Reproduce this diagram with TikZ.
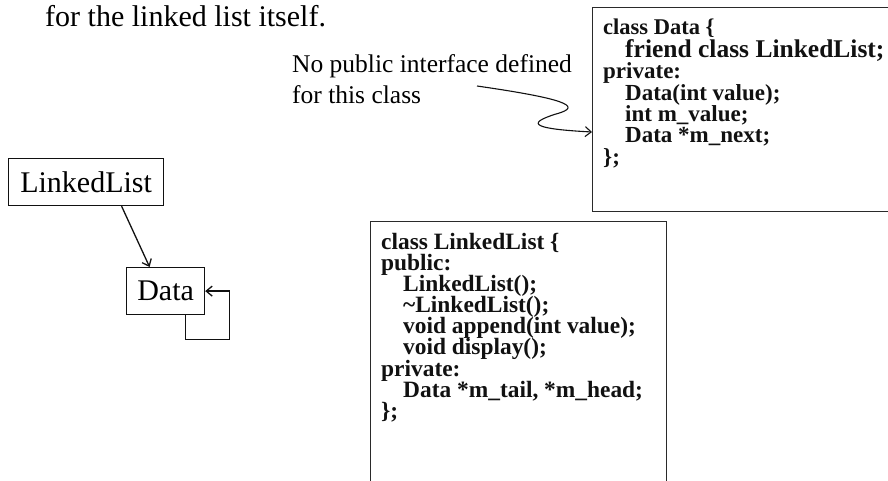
\documentclass[tikz,border=0pt]{standalone}
\usepackage{fontspec}
\setmainfont{Liberation Serif}
\usepackage{xcolor}
\usepackage{tikz}
\usetikzlibrary{arrows.meta,calc,positioning}
\definecolor{inkdark}{HTML}{111111}
\definecolor{framegray}{HTML}{2A2A2A}
\newcommand{\ind}{\hspace*{22pt}}
\setlength{\lineskiplimit}{-20pt}
\tikzset{
classbox/.style={
	draw=inkdark,
	line width=1.2pt,
	inner xsep=9pt,
	minimum height=47pt,
	font=\fontsize{30}{36}\selectfont
},
codeframe/.style={draw=framegray, line width=1.2pt, inner sep=0pt, anchor=north west},
codetext/.style={
	anchor=north west,
	inner sep=0pt,
	align=left,
	text=inkdark,
	font=\fontsize{23}{21.3}\selectfont\bfseries
},
linkarrow/.style={-{Straight Barb[length=6pt,width=10pt]}, line width=1.3pt, draw=inkdark},
notetext/.style={anchor=north west, inner sep=0pt, align=left, font=\fontsize{25.5}{31}\selectfont}
}

\begin{document}
\begin{tikzpicture}[x=1pt,y=-1pt]
\useasboundingbox (0,0) rectangle (888,481);
\clip (0,0) rectangle (888,481);

% ── Lead-in line ───────────────────────────────────────────────
\node[anchor=base west,inner sep=0pt,font=\fontsize{30}{36}\selectfont] (intro) at (45,27)
 {for the linked list itself.};

% ── Class diagram ──────────────────────────────────────────────
\node[classbox,minimum width=155pt,anchor=north west] (ll) at (8,158) {LinkedList};
\node[classbox,minimum width=78pt,anchor=north west] (data) at (126,267) {Data};
\draw[linkarrow] ([xshift=35.5pt]ll.south) -- ([xshift=-16pt]data.north);
\draw[linkarrow] ([xshift=20pt]data.south) -- ++(0,24) -| ([xshift=24pt]data.east) -- (data.east);

% ── Data class listing ─────────────────────────────────────────
\node[codeframe,minimum width=320pt,minimum height=204pt] (databox) at (592,7) {};
\node[codetext] (datacode) at (603,19)
 {{\fontsize{22.5}{21.3}\selectfont class Data \{}\\[1.5pt]
 \ind{\fontsize{25.5}{21.3}\selectfont friend class LinkedList;}\\
 private:\\
 \ind Data(int value);\\
 \ind int m\_value;\\
 \ind Data *m\_next;\\
 \};};

% ── LinkedList class listing ───────────────────────────────────
\node[codeframe,minimum width=296pt,minimum height=300pt] (llbox) at (370,221) {};
\node[codetext,font=\fontsize{23.4}{21.1}\selectfont\bfseries] (llcode) at (381,233)
 {class LinkedList \{\\
 public:\\
 \ind LinkedList();\\
 \ind \textasciitilde LinkedList();\\
 \ind void append(int value);\\
 \ind void display();\\
 private:\\
 \ind Data *m\_tail, *m\_head;\\
 \};};

% ── Annotation ─────────────────────────────────────────────────
\node[notetext] (note) at (292,54) {No public interface defined\\for this class};
\coordinate (notetail) at (477,86);
\draw[linkarrow,line width=1.1pt] (notetail) .. controls (560,98) and (586,106) .. (556,114)
 .. controls (524,124) and (535,129) .. ($(databox.north west)+(0,125)$);
\end{tikzpicture}
\end{document}
